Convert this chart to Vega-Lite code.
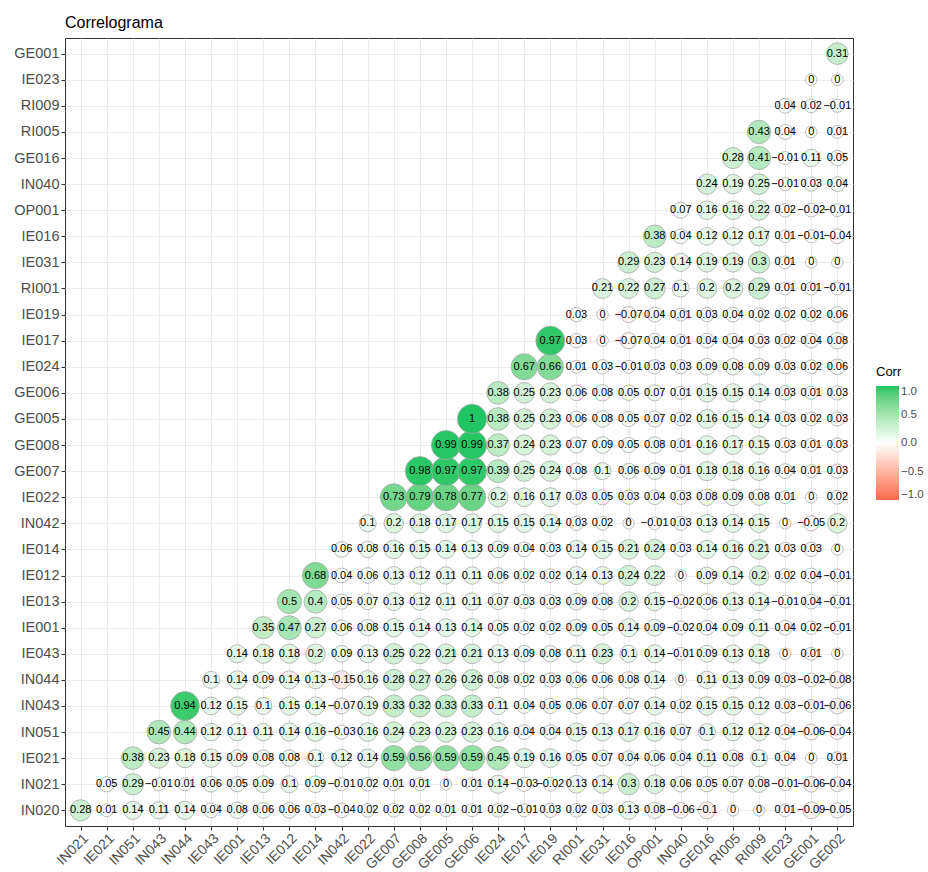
{
"$schema": "https://vega.github.io/schema/vega-lite/v6.json",
"width": 788, "height": 788,
"autosize": {"type": "none"},
"padding": {"left": 65, "top": 38, "right": 75, "bottom": 46},
"background": "white",
"title": {"text": "Correlograma", "anchor": "start", "frame": "group", "fontSize": 16, "fontWeight": "normal", "font": "Liberation Sans", "color": "#000000", "baseline": "bottom", "offset": 7, "dy": 16},
"data": {"values": [
{"x":"IN021","y":"IN020","corr":0.28},{"x":"IE021","y":"IN020","corr":0.01},{"x":"IN051","y":"IN020","corr":0.14},{"x":"IN043","y":"IN020","corr":0.11},{"x":"IN044","y":"IN020","corr":0.14},{"x":"IE043","y":"IN020","corr":0.04},{"x":"IE001","y":"IN020","corr":0.08},{"x":"IE013","y":"IN020","corr":0.06},{"x":"IE012","y":"IN020","corr":0.06},{"x":"IE014","y":"IN020","corr":0.03},{"x":"IN042","y":"IN020","corr":-0.04},{"x":"IE022","y":"IN020","corr":0.02},{"x":"GE007","y":"IN020","corr":0.02},{"x":"GE008","y":"IN020","corr":0.02},{"x":"GE005","y":"IN020","corr":0.01},{"x":"GE006","y":"IN020","corr":0.01},{"x":"IE024","y":"IN020","corr":0.02},{"x":"IE017","y":"IN020","corr":-0.01},{"x":"IE019","y":"IN020","corr":0.03},{"x":"RI001","y":"IN020","corr":0.02},{"x":"IE031","y":"IN020","corr":0.03},{"x":"IE016","y":"IN020","corr":0.13},{"x":"OP001","y":"IN020","corr":0.08},{"x":"IN040","y":"IN020","corr":-0.06},{"x":"GE016","y":"IN020","corr":-0.1},{"x":"RI005","y":"IN020","corr":0},{"x":"RI009","y":"IN020","corr":0},{"x":"IE023","y":"IN020","corr":0.01},{"x":"GE001","y":"IN020","corr":-0.09},{"x":"GE002","y":"IN020","corr":-0.05},
{"x":"IE021","y":"IN021","corr":0.05},{"x":"IN051","y":"IN021","corr":0.29},{"x":"IN043","y":"IN021","corr":-0.01},{"x":"IN044","y":"IN021","corr":0.01},{"x":"IE043","y":"IN021","corr":0.06},{"x":"IE001","y":"IN021","corr":0.05},{"x":"IE013","y":"IN021","corr":0.09},{"x":"IE012","y":"IN021","corr":0.1},{"x":"IE014","y":"IN021","corr":0.09},{"x":"IN042","y":"IN021","corr":-0.01},{"x":"IE022","y":"IN021","corr":0.02},{"x":"GE007","y":"IN021","corr":0.01},{"x":"GE008","y":"IN021","corr":0.01},{"x":"GE005","y":"IN021","corr":0},{"x":"GE006","y":"IN021","corr":0.01},{"x":"IE024","y":"IN021","corr":0.14},{"x":"IE017","y":"IN021","corr":-0.03},{"x":"IE019","y":"IN021","corr":-0.02},{"x":"RI001","y":"IN021","corr":0.13},{"x":"IE031","y":"IN021","corr":0.14},{"x":"IE016","y":"IN021","corr":0.3},{"x":"OP001","y":"IN021","corr":0.18},{"x":"IN040","y":"IN021","corr":0.06},{"x":"GE016","y":"IN021","corr":0.05},{"x":"RI005","y":"IN021","corr":0.07},{"x":"RI009","y":"IN021","corr":0.08},{"x":"IE023","y":"IN021","corr":-0.01},{"x":"GE001","y":"IN021","corr":-0.06},{"x":"GE002","y":"IN021","corr":-0.04},
{"x":"IN051","y":"IE021","corr":0.38},{"x":"IN043","y":"IE021","corr":0.23},{"x":"IN044","y":"IE021","corr":0.18},{"x":"IE043","y":"IE021","corr":0.15},{"x":"IE001","y":"IE021","corr":0.09},{"x":"IE013","y":"IE021","corr":0.08},{"x":"IE012","y":"IE021","corr":0.08},{"x":"IE014","y":"IE021","corr":0.1},{"x":"IN042","y":"IE021","corr":0.12},{"x":"IE022","y":"IE021","corr":0.14},{"x":"GE007","y":"IE021","corr":0.59},{"x":"GE008","y":"IE021","corr":0.56},{"x":"GE005","y":"IE021","corr":0.59},{"x":"GE006","y":"IE021","corr":0.59},{"x":"IE024","y":"IE021","corr":0.45},{"x":"IE017","y":"IE021","corr":0.19},{"x":"IE019","y":"IE021","corr":0.16},{"x":"RI001","y":"IE021","corr":0.05},{"x":"IE031","y":"IE021","corr":0.07},{"x":"IE016","y":"IE021","corr":0.04},{"x":"OP001","y":"IE021","corr":0.06},{"x":"IN040","y":"IE021","corr":0.04},{"x":"GE016","y":"IE021","corr":0.11},{"x":"RI005","y":"IE021","corr":0.08},{"x":"RI009","y":"IE021","corr":0.1},{"x":"IE023","y":"IE021","corr":0.04},{"x":"GE001","y":"IE021","corr":0},{"x":"GE002","y":"IE021","corr":0.01},
{"x":"IN043","y":"IN051","corr":0.45},{"x":"IN044","y":"IN051","corr":0.44},{"x":"IE043","y":"IN051","corr":0.12},{"x":"IE001","y":"IN051","corr":0.11},{"x":"IE013","y":"IN051","corr":0.11},{"x":"IE012","y":"IN051","corr":0.14},{"x":"IE014","y":"IN051","corr":0.16},{"x":"IN042","y":"IN051","corr":-0.03},{"x":"IE022","y":"IN051","corr":0.16},{"x":"GE007","y":"IN051","corr":0.24},{"x":"GE008","y":"IN051","corr":0.23},{"x":"GE005","y":"IN051","corr":0.23},{"x":"GE006","y":"IN051","corr":0.23},{"x":"IE024","y":"IN051","corr":0.16},{"x":"IE017","y":"IN051","corr":0.04},{"x":"IE019","y":"IN051","corr":0.04},{"x":"RI001","y":"IN051","corr":0.15},{"x":"IE031","y":"IN051","corr":0.13},{"x":"IE016","y":"IN051","corr":0.17},{"x":"OP001","y":"IN051","corr":0.16},{"x":"IN040","y":"IN051","corr":0.07},{"x":"GE016","y":"IN051","corr":0.1},{"x":"RI005","y":"IN051","corr":0.12},{"x":"RI009","y":"IN051","corr":0.12},{"x":"IE023","y":"IN051","corr":0.04},{"x":"GE001","y":"IN051","corr":-0.06},{"x":"GE002","y":"IN051","corr":-0.04},
{"x":"IN044","y":"IN043","corr":0.94},{"x":"IE043","y":"IN043","corr":0.12},{"x":"IE001","y":"IN043","corr":0.15},{"x":"IE013","y":"IN043","corr":0.1},{"x":"IE012","y":"IN043","corr":0.15},{"x":"IE014","y":"IN043","corr":0.14},{"x":"IN042","y":"IN043","corr":-0.07},{"x":"IE022","y":"IN043","corr":0.19},{"x":"GE007","y":"IN043","corr":0.33},{"x":"GE008","y":"IN043","corr":0.32},{"x":"GE005","y":"IN043","corr":0.33},{"x":"GE006","y":"IN043","corr":0.33},{"x":"IE024","y":"IN043","corr":0.11},{"x":"IE017","y":"IN043","corr":0.04},{"x":"IE019","y":"IN043","corr":0.05},{"x":"RI001","y":"IN043","corr":0.06},{"x":"IE031","y":"IN043","corr":0.07},{"x":"IE016","y":"IN043","corr":0.07},{"x":"OP001","y":"IN043","corr":0.14},{"x":"IN040","y":"IN043","corr":0.02},{"x":"GE016","y":"IN043","corr":0.15},{"x":"RI005","y":"IN043","corr":0.15},{"x":"RI009","y":"IN043","corr":0.12},{"x":"IE023","y":"IN043","corr":0.03},{"x":"GE001","y":"IN043","corr":-0.01},{"x":"GE002","y":"IN043","corr":-0.06},
{"x":"IE043","y":"IN044","corr":0.1},{"x":"IE001","y":"IN044","corr":0.14},{"x":"IE013","y":"IN044","corr":0.09},{"x":"IE012","y":"IN044","corr":0.14},{"x":"IE014","y":"IN044","corr":0.13},{"x":"IN042","y":"IN044","corr":-0.15},{"x":"IE022","y":"IN044","corr":0.16},{"x":"GE007","y":"IN044","corr":0.28},{"x":"GE008","y":"IN044","corr":0.27},{"x":"GE005","y":"IN044","corr":0.26},{"x":"GE006","y":"IN044","corr":0.26},{"x":"IE024","y":"IN044","corr":0.08},{"x":"IE017","y":"IN044","corr":0.02},{"x":"IE019","y":"IN044","corr":0.03},{"x":"RI001","y":"IN044","corr":0.06},{"x":"IE031","y":"IN044","corr":0.06},{"x":"IE016","y":"IN044","corr":0.08},{"x":"OP001","y":"IN044","corr":0.14},{"x":"IN040","y":"IN044","corr":0},{"x":"GE016","y":"IN044","corr":0.11},{"x":"RI005","y":"IN044","corr":0.13},{"x":"RI009","y":"IN044","corr":0.09},{"x":"IE023","y":"IN044","corr":0.03},{"x":"GE001","y":"IN044","corr":-0.02},{"x":"GE002","y":"IN044","corr":-0.08},
{"x":"IE001","y":"IE043","corr":0.14},{"x":"IE013","y":"IE043","corr":0.18},{"x":"IE012","y":"IE043","corr":0.18},{"x":"IE014","y":"IE043","corr":0.2},{"x":"IN042","y":"IE043","corr":0.09},{"x":"IE022","y":"IE043","corr":0.13},{"x":"GE007","y":"IE043","corr":0.25},{"x":"GE008","y":"IE043","corr":0.22},{"x":"GE005","y":"IE043","corr":0.21},{"x":"GE006","y":"IE043","corr":0.21},{"x":"IE024","y":"IE043","corr":0.13},{"x":"IE017","y":"IE043","corr":0.09},{"x":"IE019","y":"IE043","corr":0.08},{"x":"RI001","y":"IE043","corr":0.11},{"x":"IE031","y":"IE043","corr":0.23},{"x":"IE016","y":"IE043","corr":0.1},{"x":"OP001","y":"IE043","corr":0.14},{"x":"IN040","y":"IE043","corr":-0.01},{"x":"GE016","y":"IE043","corr":0.09},{"x":"RI005","y":"IE043","corr":0.13},{"x":"RI009","y":"IE043","corr":0.18},{"x":"IE023","y":"IE043","corr":0},{"x":"GE001","y":"IE043","corr":0.01},{"x":"GE002","y":"IE043","corr":0},
{"x":"IE013","y":"IE001","corr":0.35},{"x":"IE012","y":"IE001","corr":0.47},{"x":"IE014","y":"IE001","corr":0.27},{"x":"IN042","y":"IE001","corr":0.06},{"x":"IE022","y":"IE001","corr":0.08},{"x":"GE007","y":"IE001","corr":0.15},{"x":"GE008","y":"IE001","corr":0.14},{"x":"GE005","y":"IE001","corr":0.13},{"x":"GE006","y":"IE001","corr":0.14},{"x":"IE024","y":"IE001","corr":0.05},{"x":"IE017","y":"IE001","corr":0.02},{"x":"IE019","y":"IE001","corr":0.02},{"x":"RI001","y":"IE001","corr":0.09},{"x":"IE031","y":"IE001","corr":0.05},{"x":"IE016","y":"IE001","corr":0.14},{"x":"OP001","y":"IE001","corr":0.09},{"x":"IN040","y":"IE001","corr":-0.02},{"x":"GE016","y":"IE001","corr":0.04},{"x":"RI005","y":"IE001","corr":0.09},{"x":"RI009","y":"IE001","corr":0.11},{"x":"IE023","y":"IE001","corr":0.04},{"x":"GE001","y":"IE001","corr":0.02},{"x":"GE002","y":"IE001","corr":-0.01},
{"x":"IE012","y":"IE013","corr":0.5},{"x":"IE014","y":"IE013","corr":0.4},{"x":"IN042","y":"IE013","corr":0.05},{"x":"IE022","y":"IE013","corr":0.07},{"x":"GE007","y":"IE013","corr":0.13},{"x":"GE008","y":"IE013","corr":0.12},{"x":"GE005","y":"IE013","corr":0.11},{"x":"GE006","y":"IE013","corr":0.11},{"x":"IE024","y":"IE013","corr":0.07},{"x":"IE017","y":"IE013","corr":0.03},{"x":"IE019","y":"IE013","corr":0.03},{"x":"RI001","y":"IE013","corr":0.09},{"x":"IE031","y":"IE013","corr":0.08},{"x":"IE016","y":"IE013","corr":0.2},{"x":"OP001","y":"IE013","corr":0.15},{"x":"IN040","y":"IE013","corr":-0.02},{"x":"GE016","y":"IE013","corr":0.06},{"x":"RI005","y":"IE013","corr":0.13},{"x":"RI009","y":"IE013","corr":0.14},{"x":"IE023","y":"IE013","corr":-0.01},{"x":"GE001","y":"IE013","corr":0.04},{"x":"GE002","y":"IE013","corr":-0.01},
{"x":"IE014","y":"IE012","corr":0.68},{"x":"IN042","y":"IE012","corr":0.04},{"x":"IE022","y":"IE012","corr":0.06},{"x":"GE007","y":"IE012","corr":0.13},{"x":"GE008","y":"IE012","corr":0.12},{"x":"GE005","y":"IE012","corr":0.11},{"x":"GE006","y":"IE012","corr":0.11},{"x":"IE024","y":"IE012","corr":0.06},{"x":"IE017","y":"IE012","corr":0.02},{"x":"IE019","y":"IE012","corr":0.02},{"x":"RI001","y":"IE012","corr":0.14},{"x":"IE031","y":"IE012","corr":0.13},{"x":"IE016","y":"IE012","corr":0.24},{"x":"OP001","y":"IE012","corr":0.22},{"x":"IN040","y":"IE012","corr":0},{"x":"GE016","y":"IE012","corr":0.09},{"x":"RI005","y":"IE012","corr":0.14},{"x":"RI009","y":"IE012","corr":0.2},{"x":"IE023","y":"IE012","corr":0.02},{"x":"GE001","y":"IE012","corr":0.04},{"x":"GE002","y":"IE012","corr":-0.01},
{"x":"IN042","y":"IE014","corr":0.06},{"x":"IE022","y":"IE014","corr":0.08},{"x":"GE007","y":"IE014","corr":0.16},{"x":"GE008","y":"IE014","corr":0.15},{"x":"GE005","y":"IE014","corr":0.14},{"x":"GE006","y":"IE014","corr":0.13},{"x":"IE024","y":"IE014","corr":0.09},{"x":"IE017","y":"IE014","corr":0.04},{"x":"IE019","y":"IE014","corr":0.03},{"x":"RI001","y":"IE014","corr":0.14},{"x":"IE031","y":"IE014","corr":0.15},{"x":"IE016","y":"IE014","corr":0.21},{"x":"OP001","y":"IE014","corr":0.24},{"x":"IN040","y":"IE014","corr":0.03},{"x":"GE016","y":"IE014","corr":0.14},{"x":"RI005","y":"IE014","corr":0.16},{"x":"RI009","y":"IE014","corr":0.21},{"x":"IE023","y":"IE014","corr":0.03},{"x":"GE001","y":"IE014","corr":0.03},{"x":"GE002","y":"IE014","corr":0},
{"x":"IE022","y":"IN042","corr":0.1},{"x":"GE007","y":"IN042","corr":0.2},{"x":"GE008","y":"IN042","corr":0.18},{"x":"GE005","y":"IN042","corr":0.17},{"x":"GE006","y":"IN042","corr":0.17},{"x":"IE024","y":"IN042","corr":0.15},{"x":"IE017","y":"IN042","corr":0.15},{"x":"IE019","y":"IN042","corr":0.14},{"x":"RI001","y":"IN042","corr":0.03},{"x":"IE031","y":"IN042","corr":0.02},{"x":"IE016","y":"IN042","corr":0},{"x":"OP001","y":"IN042","corr":-0.01},{"x":"IN040","y":"IN042","corr":0.03},{"x":"GE016","y":"IN042","corr":0.13},{"x":"RI005","y":"IN042","corr":0.14},{"x":"RI009","y":"IN042","corr":0.15},{"x":"IE023","y":"IN042","corr":0},{"x":"GE001","y":"IN042","corr":-0.05},{"x":"GE002","y":"IN042","corr":0.2},
{"x":"GE007","y":"IE022","corr":0.73},{"x":"GE008","y":"IE022","corr":0.79},{"x":"GE005","y":"IE022","corr":0.78},{"x":"GE006","y":"IE022","corr":0.77},{"x":"IE024","y":"IE022","corr":0.2},{"x":"IE017","y":"IE022","corr":0.16},{"x":"IE019","y":"IE022","corr":0.17},{"x":"RI001","y":"IE022","corr":0.03},{"x":"IE031","y":"IE022","corr":0.05},{"x":"IE016","y":"IE022","corr":0.03},{"x":"OP001","y":"IE022","corr":0.04},{"x":"IN040","y":"IE022","corr":0.03},{"x":"GE016","y":"IE022","corr":0.08},{"x":"RI005","y":"IE022","corr":0.09},{"x":"RI009","y":"IE022","corr":0.08},{"x":"IE023","y":"IE022","corr":0.01},{"x":"GE001","y":"IE022","corr":0},{"x":"GE002","y":"IE022","corr":0.02},
{"x":"GE008","y":"GE007","corr":0.98},{"x":"GE005","y":"GE007","corr":0.97},{"x":"GE006","y":"GE007","corr":0.97},{"x":"IE024","y":"GE007","corr":0.39},{"x":"IE017","y":"GE007","corr":0.25},{"x":"IE019","y":"GE007","corr":0.24},{"x":"RI001","y":"GE007","corr":0.08},{"x":"IE031","y":"GE007","corr":0.1},{"x":"IE016","y":"GE007","corr":0.06},{"x":"OP001","y":"GE007","corr":0.09},{"x":"IN040","y":"GE007","corr":0.01},{"x":"GE016","y":"GE007","corr":0.18},{"x":"RI005","y":"GE007","corr":0.18},{"x":"RI009","y":"GE007","corr":0.16},{"x":"IE023","y":"GE007","corr":0.04},{"x":"GE001","y":"GE007","corr":0.01},{"x":"GE002","y":"GE007","corr":0.03},
{"x":"GE005","y":"GE008","corr":0.99},{"x":"GE006","y":"GE008","corr":0.99},{"x":"IE024","y":"GE008","corr":0.37},{"x":"IE017","y":"GE008","corr":0.24},{"x":"IE019","y":"GE008","corr":0.23},{"x":"RI001","y":"GE008","corr":0.07},{"x":"IE031","y":"GE008","corr":0.09},{"x":"IE016","y":"GE008","corr":0.05},{"x":"OP001","y":"GE008","corr":0.08},{"x":"IN040","y":"GE008","corr":0.01},{"x":"GE016","y":"GE008","corr":0.16},{"x":"RI005","y":"GE008","corr":0.17},{"x":"RI009","y":"GE008","corr":0.15},{"x":"IE023","y":"GE008","corr":0.03},{"x":"GE001","y":"GE008","corr":0.01},{"x":"GE002","y":"GE008","corr":0.03},
{"x":"GE006","y":"GE005","corr":1},{"x":"IE024","y":"GE005","corr":0.38},{"x":"IE017","y":"GE005","corr":0.25},{"x":"IE019","y":"GE005","corr":0.23},{"x":"RI001","y":"GE005","corr":0.06},{"x":"IE031","y":"GE005","corr":0.08},{"x":"IE016","y":"GE005","corr":0.05},{"x":"OP001","y":"GE005","corr":0.07},{"x":"IN040","y":"GE005","corr":0.02},{"x":"GE016","y":"GE005","corr":0.16},{"x":"RI005","y":"GE005","corr":0.15},{"x":"RI009","y":"GE005","corr":0.14},{"x":"IE023","y":"GE005","corr":0.03},{"x":"GE001","y":"GE005","corr":0.02},{"x":"GE002","y":"GE005","corr":0.03},
{"x":"IE024","y":"GE006","corr":0.38},{"x":"IE017","y":"GE006","corr":0.25},{"x":"IE019","y":"GE006","corr":0.23},{"x":"RI001","y":"GE006","corr":0.06},{"x":"IE031","y":"GE006","corr":0.08},{"x":"IE016","y":"GE006","corr":0.05},{"x":"OP001","y":"GE006","corr":0.07},{"x":"IN040","y":"GE006","corr":0.01},{"x":"GE016","y":"GE006","corr":0.15},{"x":"RI005","y":"GE006","corr":0.15},{"x":"RI009","y":"GE006","corr":0.14},{"x":"IE023","y":"GE006","corr":0.03},{"x":"GE001","y":"GE006","corr":0.01},{"x":"GE002","y":"GE006","corr":0.03},
{"x":"IE017","y":"IE024","corr":0.67},{"x":"IE019","y":"IE024","corr":0.66},{"x":"RI001","y":"IE024","corr":0.01},{"x":"IE031","y":"IE024","corr":0.03},{"x":"IE016","y":"IE024","corr":-0.01},{"x":"OP001","y":"IE024","corr":0.03},{"x":"IN040","y":"IE024","corr":0.03},{"x":"GE016","y":"IE024","corr":0.09},{"x":"RI005","y":"IE024","corr":0.08},{"x":"RI009","y":"IE024","corr":0.09},{"x":"IE023","y":"IE024","corr":0.03},{"x":"GE001","y":"IE024","corr":0.02},{"x":"GE002","y":"IE024","corr":0.06},
{"x":"IE019","y":"IE017","corr":0.97},{"x":"RI001","y":"IE017","corr":0.03},{"x":"IE031","y":"IE017","corr":0},{"x":"IE016","y":"IE017","corr":-0.07},{"x":"OP001","y":"IE017","corr":0.04},{"x":"IN040","y":"IE017","corr":0.01},{"x":"GE016","y":"IE017","corr":0.04},{"x":"RI005","y":"IE017","corr":0.04},{"x":"RI009","y":"IE017","corr":0.03},{"x":"IE023","y":"IE017","corr":0.02},{"x":"GE001","y":"IE017","corr":0.04},{"x":"GE002","y":"IE017","corr":0.08},
{"x":"RI001","y":"IE019","corr":0.03},{"x":"IE031","y":"IE019","corr":0},{"x":"IE016","y":"IE019","corr":-0.07},{"x":"OP001","y":"IE019","corr":0.04},{"x":"IN040","y":"IE019","corr":0.01},{"x":"GE016","y":"IE019","corr":0.03},{"x":"RI005","y":"IE019","corr":0.04},{"x":"RI009","y":"IE019","corr":0.02},{"x":"IE023","y":"IE019","corr":0.02},{"x":"GE001","y":"IE019","corr":0.02},{"x":"GE002","y":"IE019","corr":0.06},
{"x":"IE031","y":"RI001","corr":0.21},{"x":"IE016","y":"RI001","corr":0.22},{"x":"OP001","y":"RI001","corr":0.27},{"x":"IN040","y":"RI001","corr":0.1},{"x":"GE016","y":"RI001","corr":0.2},{"x":"RI005","y":"RI001","corr":0.2},{"x":"RI009","y":"RI001","corr":0.29},{"x":"IE023","y":"RI001","corr":0.01},{"x":"GE001","y":"RI001","corr":0.01},{"x":"GE002","y":"RI001","corr":-0.01},
{"x":"IE016","y":"IE031","corr":0.29},{"x":"OP001","y":"IE031","corr":0.23},{"x":"IN040","y":"IE031","corr":0.14},{"x":"GE016","y":"IE031","corr":0.19},{"x":"RI005","y":"IE031","corr":0.19},{"x":"RI009","y":"IE031","corr":0.3},{"x":"IE023","y":"IE031","corr":0.01},{"x":"GE001","y":"IE031","corr":0},{"x":"GE002","y":"IE031","corr":0},
{"x":"OP001","y":"IE016","corr":0.38},{"x":"IN040","y":"IE016","corr":0.04},{"x":"GE016","y":"IE016","corr":0.12},{"x":"RI005","y":"IE016","corr":0.12},{"x":"RI009","y":"IE016","corr":0.17},{"x":"IE023","y":"IE016","corr":0.01},{"x":"GE001","y":"IE016","corr":-0.01},{"x":"GE002","y":"IE016","corr":-0.04},
{"x":"IN040","y":"OP001","corr":0.07},{"x":"GE016","y":"OP001","corr":0.16},{"x":"RI005","y":"OP001","corr":0.16},{"x":"RI009","y":"OP001","corr":0.22},{"x":"IE023","y":"OP001","corr":0.02},{"x":"GE001","y":"OP001","corr":-0.02},{"x":"GE002","y":"OP001","corr":-0.01},
{"x":"GE016","y":"IN040","corr":0.24},{"x":"RI005","y":"IN040","corr":0.19},{"x":"RI009","y":"IN040","corr":0.25},{"x":"IE023","y":"IN040","corr":-0.01},{"x":"GE001","y":"IN040","corr":0.03},{"x":"GE002","y":"IN040","corr":0.04},
{"x":"RI005","y":"GE016","corr":0.28},{"x":"RI009","y":"GE016","corr":0.41},{"x":"IE023","y":"GE016","corr":-0.01},{"x":"GE001","y":"GE016","corr":0.11},{"x":"GE002","y":"GE016","corr":0.05},
{"x":"RI009","y":"RI005","corr":0.43},{"x":"IE023","y":"RI005","corr":0.04},{"x":"GE001","y":"RI005","corr":0},{"x":"GE002","y":"RI005","corr":0.01},
{"x":"IE023","y":"RI009","corr":0.04},{"x":"GE001","y":"RI009","corr":0.02},{"x":"GE002","y":"RI009","corr":-0.01},
{"x":"GE001","y":"IE023","corr":0},{"x":"GE002","y":"IE023","corr":0},
{"x":"GE002","y":"GE001","corr":0.31}
]},
"transform": [{"calculate": "abs(datum.corr)", "as": "absCorr"}],
"encoding": {
  "x": {"field": "x", "type": "nominal", "title": null,
        "sort": ["IN021","IE021","IN051","IN043","IN044","IE043","IE001","IE013","IE012","IE014","IN042","IE022","GE007","GE008","GE005","GE006","IE024","IE017","IE019","RI001","IE031","IE016","OP001","IN040","GE016","RI005","RI009","IE023","GE001","GE002"],
        "scale": {"type": "point", "padding": 0.6},
        "axis": {"labelAngle": -45, "labelAlign": "right", "labelBaseline": "top", "grid": true, "labelFontSize": 14, "labelPadding": 1}},
  "y": {"field": "y", "type": "nominal", "title": null,
        "sort": ["GE001","IE023","RI009","RI005","GE016","IN040","OP001","IE016","IE031","RI001","IE019","IE017","IE024","GE006","GE005","GE008","GE007","IE022","IN042","IE014","IE012","IE013","IE001","IE043","IN044","IN043","IN051","IE021","IN021","IN020"],
        "scale": {"type": "point", "padding": 0.6},
        "axis": {"grid": true}}
},
"layer": [
  {"mark": {"type": "circle", "stroke": "#A8A8A8", "strokeWidth": 0.8, "opacity": 1},
   "encoding": {
     "color": {"field": "corr", "type": "quantitative", "title": "Corr",
               "scale": {"domain": [-1, 0, 1], "range": ["#F4694E", "#FFFFFF", "#1FC663"], "interpolate": "lab"},
               "legend": {"orient": "none", "legendX": 811, "legendY": 328, "direction": "vertical", "gradientLength": 114, "gradientThickness": 23, "values": [-1, -0.5, 0, 0.5, 1], "format": ".1f", "titleFontSize": 13, "titleFontWeight": "normal", "titleColor": "#000000", "titleFont": "Liberation Sans", "labelFont": "Liberation Sans", "labelFontSize": 11.5, "labelColor": "#4D4D4D", "titlePadding": 7, "gradientStrokeWidth": 0}},
     "size": {"field": "absCorr", "type": "quantitative", "legend": null,
              "scale": {"type": "pow", "exponent": 0.66, "domain": [0, 1], "range": [133, 855]}}
   }},
  {"mark": {"type": "text", "fontSize": 11, "font": "Liberation Sans", "color": "#000000"},
   "encoding": {"text": {"field": "corr", "type": "quantitative", "format": ".2~f"}}}
],
"config": {
  "view": {"stroke": "#333333", "strokeWidth": 1},
  "axis": {"domain": false, "grid": true, "gridColor": "#EBEBEB", "gridWidth": 1, "tickColor": "#333333", "tickSize": 4, "labelColor": "#4D4D4D", "labelFontSize": 14.5, "labelFont": "Liberation Sans", "labelPadding": 2}
}
}
